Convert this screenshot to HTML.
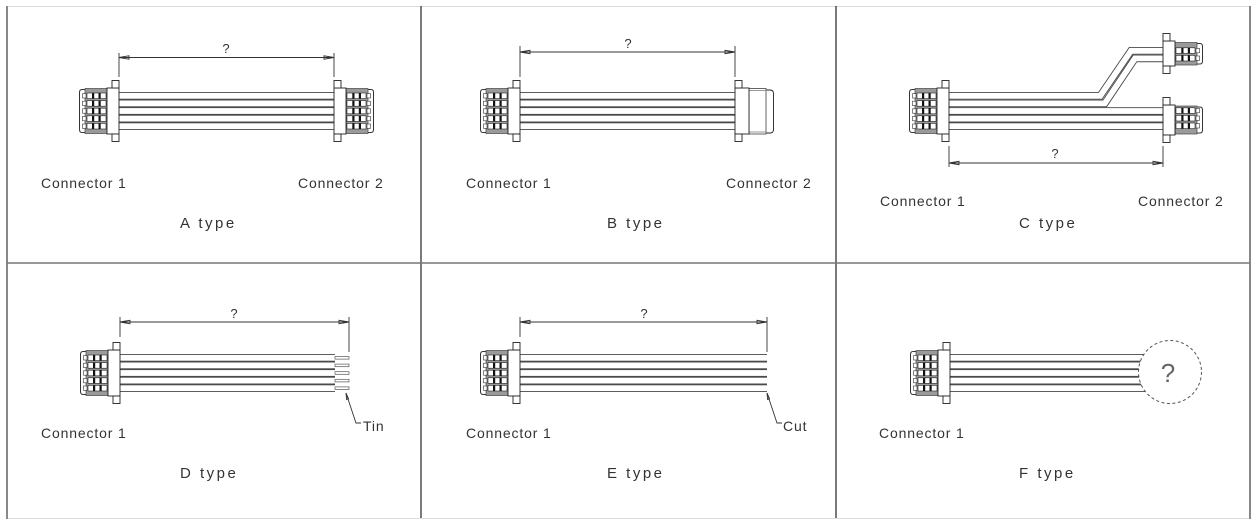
<!DOCTYPE html>
<html><head><meta charset="utf-8">
<style>
html,body{margin:0;padding:0;background:#fff;}
svg{display:block;}
text{font-family:"Liberation Sans",sans-serif;fill:#333;}
.lbl{font-size:14px;letter-spacing:0.85px;}
.typ{font-size:15px;letter-spacing:2.5px;}
.q{font-size:13px;}
</style></head><body>
<svg width="1256" height="530" viewBox="0 0 1256 530" xmlns="http://www.w3.org/2000/svg" xmlns:xlink="http://www.w3.org/1999/xlink">
<defs>
 <g id="pinrow">
   <rect x="-36.5" y="0.6" width="3.5" height="4.4" fill="#fff" stroke="#333" stroke-width="0.6"/>
   <rect x="-32" y="0" width="19" height="5.6" fill="#fff" stroke="#222" stroke-width="0.6"/>
   <rect x="-27" y="0" width="2.2" height="5.6" fill="#111"/>
   <rect x="-20.5" y="0" width="2.2" height="5.6" fill="#111"/>
 </g>
 <g id="c5">
  <path d="M-34,9.5 H-37 Q-39.5,9.5 -39.5,12.5 V49.5 Q-39.5,52.5 -37,52.5 H-34" fill="none" stroke="#333" stroke-width="1"/>
  <rect x="-34" y="8.5" width="22" height="45" fill="#9a9a9a" stroke="#444" stroke-width="0.7"/>
  <use href="#pinrow" xlink:href="#pinrow" y="13"/>
  <use href="#pinrow" xlink:href="#pinrow" y="20.6"/>
  <use href="#pinrow" xlink:href="#pinrow" y="28.2"/>
  <use href="#pinrow" xlink:href="#pinrow" y="35.8"/>
  <use href="#pinrow" xlink:href="#pinrow" y="43.4"/>
  <rect x="-12" y="8" width="12" height="46" fill="#fff" stroke="#222" stroke-width="0.9"/>
  <rect x="-7" y="0.5" width="7" height="7.5" fill="#fff" stroke="#222" stroke-width="0.9"/>
  <rect x="-7" y="54" width="7" height="7.5" fill="#fff" stroke="#222" stroke-width="0.9"/>
 </g>
 <g id="c3">
  <path d="M-34,10 H-37 Q-39.5,10 -39.5,13 V33 Q-39.5,36 -37,36 H-34" fill="none" stroke="#333" stroke-width="1"/>
  <rect x="-34" y="9" width="22" height="28" fill="#9a9a9a" stroke="#444" stroke-width="0.7"/>
  <use href="#pinrow" xlink:href="#pinrow" y="10.8"/>
  <use href="#pinrow" xlink:href="#pinrow" y="18.4"/>
  <use href="#pinrow" xlink:href="#pinrow" y="26"/>
  <rect x="-12" y="8" width="12" height="30" fill="#fff" stroke="#222" stroke-width="0.9"/>
  <rect x="-7" y="0.5" width="7" height="7.5" fill="#fff" stroke="#222" stroke-width="0.9"/>
  <rect x="-7" y="38" width="7" height="7.5" fill="#fff" stroke="#222" stroke-width="0.9"/>
 </g>
 <g id="c2">
  <path d="M-34,10.5 H-37 Q-39.5,10.5 -39.5,13.5 V28 Q-39.5,31 -37,31 H-34" fill="none" stroke="#333" stroke-width="1"/>
  <rect x="-34" y="9.5" width="22" height="22.5" fill="#9a9a9a" stroke="#444" stroke-width="0.7"/>
  <use href="#pinrow" xlink:href="#pinrow" y="14.8"/>
  <use href="#pinrow" xlink:href="#pinrow" y="22.4"/>
  <rect x="-12" y="8" width="12" height="25" fill="#fff" stroke="#222" stroke-width="0.9"/>
  <rect x="-7" y="0.5" width="7" height="7.5" fill="#fff" stroke="#222" stroke-width="0.9"/>
  <rect x="-7" y="33" width="7" height="7.5" fill="#fff" stroke="#222" stroke-width="0.9"/>
 </g>
</defs>

<!-- Frame -->
<line x1="7" y1="6.5" x2="1250" y2="6.5" stroke="#ddd" stroke-width="1"/>
<line x1="7" y1="518.5" x2="1250" y2="518.5" stroke="#ddd" stroke-width="1"/>
<line x1="7" y1="6" x2="7" y2="519" stroke="#888" stroke-width="2"/>
<line x1="1250" y1="6" x2="1250" y2="519" stroke="#888" stroke-width="2"/>
<line x1="421" y1="6" x2="421" y2="518" stroke="#222" stroke-width="1.2"/>
<line x1="836" y1="6" x2="836" y2="518" stroke="#222" stroke-width="1.2"/>
<line x1="7" y1="263" x2="1250" y2="263" stroke="#777" stroke-width="1.5"/>

<g stroke="#333" stroke-width="0.9" fill="none">
 <!-- A dim -->
 <line x1="119" y1="57.5" x2="334" y2="57.5"/>
 <line x1="119" y1="53" x2="119" y2="77"/>
 <line x1="334" y1="53" x2="334" y2="77"/>
 <polygon points="119,57.5 129,55.8 129,59.2"/>
 <polygon points="334,57.5 324,55.8 324,59.2"/>
 <!-- B dim -->
 <line x1="520" y1="52" x2="735" y2="52"/>
 <line x1="520" y1="46" x2="520" y2="77"/>
 <line x1="735" y1="46" x2="735" y2="77"/>
 <polygon points="520,52 530,50.3 530,53.7"/>
 <polygon points="735,52 725,50.3 725,53.7"/>
 <!-- C dim -->
 <line x1="949" y1="163" x2="1163" y2="163"/>
 <line x1="949" y1="146" x2="949" y2="167"/>
 <line x1="1163" y1="146" x2="1163" y2="167"/>
 <polygon points="949,163 959,161.3 959,164.7"/>
 <polygon points="1163,163 1153,161.3 1153,164.7"/>
 <!-- D dim -->
 <line x1="120" y1="322" x2="349" y2="322"/>
 <line x1="120" y1="317" x2="120" y2="337"/>
 <line x1="349" y1="317" x2="349" y2="352"/>
 <polygon points="120,322 130,320.3 130,323.7"/>
 <polygon points="349,322 339,320.3 339,323.7"/>
 <!-- E dim -->
 <line x1="520" y1="322" x2="767" y2="322"/>
 <line x1="520" y1="317" x2="520" y2="337"/>
 <line x1="767" y1="317" x2="767" y2="352"/>
 <polygon points="520,322 530,320.3 530,323.7"/>
 <polygon points="767,322 757,320.3 757,323.7"/>
 <!-- Leaders -->
 <path d="M346,393 L356,423 H361"/>
 <polygon points="346,393 346.6,399.5 348.6,398.8"/>
 <path d="M767,393 L777,423 H782"/>
 <polygon points="767,393 767.6,399.5 769.6,398.8"/>
</g>

<!-- A wires -->
<rect x="119" y="92" width="215" height="38" fill="#4a4a4a"/>
<g fill="#fff">
 <rect x="119" y="92.9" width="215" height="5.8"/>
 <rect x="119" y="100.5" width="215" height="5.8"/>
 <rect x="119" y="108.1" width="215" height="5.8"/>
 <rect x="119" y="115.7" width="215" height="5.8"/>
 <rect x="119" y="123.3" width="215" height="5.8"/>
</g>
<use href="#c5" xlink:href="#c5" transform="translate(119,80)"/>
<use href="#c5" xlink:href="#c5" transform="translate(334,80) scale(-1,1)"/>

<!-- B wires -->
<rect x="520" y="92" width="215" height="38" fill="#4a4a4a"/>
<g fill="#fff">
 <rect x="520" y="92.9" width="215" height="5.8"/>
 <rect x="520" y="100.5" width="215" height="5.8"/>
 <rect x="520" y="108.1" width="215" height="5.8"/>
 <rect x="520" y="115.7" width="215" height="5.8"/>
 <rect x="520" y="123.3" width="215" height="5.8"/>
</g>
<use href="#c5" xlink:href="#c5" transform="translate(520,80)"/>
<!-- B right box connector -->
<g stroke="#222" stroke-width="0.9" fill="#fff">
 <path d="M766,90 H770 Q773.5,90 773.5,93.5 V129.5 Q773.5,133 770,133 H766"/>
 <rect x="749" y="88.5" width="17" height="45.5" fill="#fff" stroke="#555"/>
 <line x1="749" y1="90.5" x2="766" y2="90.5" stroke="#999"/>
 <line x1="749" y1="132" x2="766" y2="132" stroke="#999"/>
 <rect x="735" y="88" width="14" height="46"/>
 <rect x="735" y="80.5" width="7" height="7.5"/>
 <rect x="735" y="134" width="7" height="7.5"/>
</g>

<!-- C wires -->
<g fill="none" stroke-linejoin="miter">
 <path d="M949,95.8 H1100.3 L1131,50.8 H1163" stroke="#4a4a4a" stroke-width="7.6"/>
 <path d="M949,103.4 H1104.8 L1135,58.4 H1163" stroke="#4a4a4a" stroke-width="7.6"/>
 <path d="M949,95.8 H1100.3 L1131,50.8 H1163" stroke="#fff" stroke-width="5.8"/>
 <path d="M949,103.4 H1104.8 L1135,58.4 H1163" stroke="#fff" stroke-width="5.8"/>
</g>
<rect x="949" y="107.2" width="214" height="22.8" fill="#4a4a4a"/>
<g fill="#fff">
 <rect x="949" y="108.1" width="214" height="5.8"/>
 <rect x="949" y="115.7" width="214" height="5.8"/>
 <rect x="949" y="123.3" width="214" height="5.8"/>
</g>
<use href="#c5" xlink:href="#c5" transform="translate(949,80)"/>
<use href="#c3" xlink:href="#c3" transform="translate(1163,97) scale(-1,1)"/>
<use href="#c2" xlink:href="#c2" transform="translate(1163,33) scale(-1,1)"/>

<!-- D wires -->
<rect x="120" y="354" width="215" height="38" fill="#4a4a4a"/>
<g fill="#fff">
 <rect x="120" y="354.9" width="215" height="5.8"/>
 <rect x="120" y="362.5" width="215" height="5.8"/>
 <rect x="120" y="370.1" width="215" height="5.8"/>
 <rect x="120" y="377.7" width="215" height="5.8"/>
 <rect x="120" y="385.3" width="215" height="5.8"/>
</g>
<g fill="#fff" stroke="#555" stroke-width="0.7">
 <rect x="335" y="356.5" width="14" height="2.6"/>
 <rect x="335" y="364.1" width="14" height="2.6"/>
 <rect x="335" y="371.7" width="14" height="2.6"/>
 <rect x="335" y="379.3" width="14" height="2.6"/>
 <rect x="335" y="386.9" width="14" height="2.6"/>
</g>
<use href="#c5" xlink:href="#c5" transform="translate(120,342)"/>

<!-- E wires -->
<rect x="520" y="354" width="247" height="38" fill="#4a4a4a"/>
<g fill="#fff">
 <rect x="520" y="354.9" width="247" height="5.8"/>
 <rect x="520" y="362.5" width="247" height="5.8"/>
 <rect x="520" y="370.1" width="247" height="5.8"/>
 <rect x="520" y="377.7" width="247" height="5.8"/>
 <rect x="520" y="385.3" width="247" height="5.8"/>
</g>
<use href="#c5" xlink:href="#c5" transform="translate(520,342)"/>

<!-- F wires -->
<rect x="950" y="354" width="200" height="38" fill="#4a4a4a"/>
<g fill="#fff">
 <rect x="950" y="354.9" width="200" height="5.8"/>
 <rect x="950" y="362.5" width="200" height="5.8"/>
 <rect x="950" y="370.1" width="200" height="5.8"/>
 <rect x="950" y="377.7" width="200" height="5.8"/>
 <rect x="950" y="385.3" width="200" height="5.8"/>
</g>
<use href="#c5" xlink:href="#c5" transform="translate(950,342)"/>
<circle cx="1170" cy="372" r="31.5" fill="#fff" stroke="#555" stroke-width="1" stroke-dasharray="3 2.5"/>
<text x="1168" y="382" font-size="26" text-anchor="middle" style="fill:#666">?</text>

<!-- Question marks -->
<text class="q" x="226" y="53" text-anchor="middle">?</text>
<text class="q" x="628" y="48" text-anchor="middle">?</text>
<text class="q" x="1055" y="158" text-anchor="middle">?</text>
<text class="q" x="234" y="318" text-anchor="middle">?</text>
<text class="q" x="644" y="318" text-anchor="middle">?</text>

<!-- Labels -->
<text class="lbl" x="41" y="188">Connector 1</text>
<text class="lbl" x="298" y="188">Connector 2</text>
<text class="typ" x="180" y="228">A type</text>

<text class="lbl" x="466" y="188">Connector 1</text>
<text class="lbl" x="726" y="188">Connector 2</text>
<text class="typ" x="607" y="228">B type</text>

<text class="lbl" x="880" y="206">Connector 1</text>
<text class="lbl" x="1138" y="206">Connector 2</text>
<text class="typ" x="1019" y="228">C type</text>

<text class="lbl" x="41" y="438">Connector 1</text>
<text class="typ" x="180" y="478">D type</text>
<text class="lbl" x="363" y="431">Tin</text>

<text class="lbl" x="466" y="438">Connector 1</text>
<text class="typ" x="607" y="478">E type</text>
<text class="lbl" x="783" y="431">Cut</text>

<text class="lbl" x="879" y="438">Connector 1</text>
<text class="typ" x="1019" y="478">F type</text>
</svg>
</body></html>
